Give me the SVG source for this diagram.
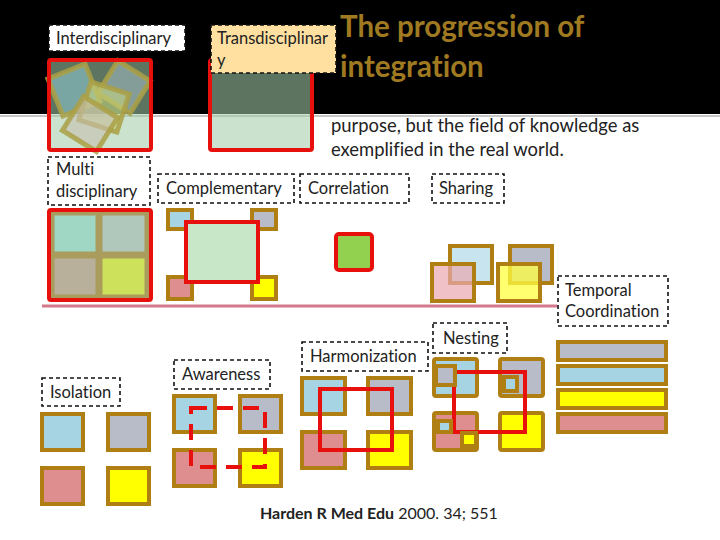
<svg xmlns="http://www.w3.org/2000/svg" width="720" height="540" viewBox="0 0 720 540">
<style>
text{font-family:Lato,"Open Sans","Liberation Sans",sans-serif;font-size:16.5px;fill:#222;font-variant-ligatures:none;font-feature-settings:"liga" 0,"dlig" 0}
.lbl{fill:#fff;stroke:#111;stroke-width:1.6;stroke-dasharray:4 3}
.sq{stroke:#b07f14;stroke-width:4}
.red{fill:none;stroke:#e8100c;stroke-width:4}
.blue{fill:#a6d4e2}.grey{fill:#b8bcc8}.pink{fill:#de8e8e}.yel{fill:#ffff00}
.tilt{stroke:#aaa045;stroke-width:5;stroke-opacity:.85}
</style>
<rect x="0" y="0" width="720" height="540" fill="#fff"/>
<rect x="0" y="0" width="720" height="114" fill="#000"/>
<line x1="0" y1="116" x2="720" y2="116" stroke="#b4b4b4" stroke-width="1.5"/>

<g id="title">
<text x="340" y="37" style="font-size:29.5px;font-weight:bold;fill:#a07a20">The progression of</text>
<text x="340" y="77" style="font-size:29.5px;font-weight:bold;fill:#a07a20">integration</text>
</g>
<g id="para">
<text x="331" y="132" style="font-size:18.4px">purpose, but the field of knowledge as</text>
<text x="331" y="156" style="font-size:18.4px">exemplified in the real world.</text>
</g>

<g id="interdisciplinary">
<rect x="49" y="60" width="102" height="90" fill="#a3cda8" fill-opacity=".57"/>
<rect class="tilt" x="-20" y="-20" width="40" height="40" fill="#8cc4d0" fill-opacity=".6" transform="translate(74,90) rotate(-22)"/>
<rect class="tilt" x="-19" y="-19" width="38" height="38" fill="#a0b8c0" fill-opacity=".6" transform="translate(124,87) rotate(32)"/>
<rect class="tilt" x="-20" y="-20" width="40" height="40" fill="#c8d880" fill-opacity=".55" transform="translate(104,107) rotate(18)"/>
<rect class="tilt" x="-20" y="-20" width="40" height="40" fill="#c8c0b0" fill-opacity=".6" transform="translate(90,124) rotate(32)"/>
<rect class="red" x="49" y="60" width="102" height="90" rx="2"/>
<rect class="lbl" x="49" y="25" width="136" height="26"/>
<text x="56" y="44">Interdisciplinary</text>
</g>

<g id="transdisciplinary">
<rect x="210" y="60" width="102" height="90" fill="#a3cda8" fill-opacity=".57"/>
<rect class="red" x="210" y="60" width="102" height="90" rx="2"/>
<rect class="lbl" x="211" y="25" width="125" height="48" style="fill:#ffe0a0"/>
<text x="217" y="44">Transdisciplinar</text>
<text x="217" y="66">y</text>
</g>

<g id="multidisciplinary">
<rect x="49" y="210" width="102" height="90" fill="#c8e4c4"/>
<rect x="52" y="213" width="46" height="41" fill="#9fd6c4" stroke="#aa9c5c" stroke-width="5"/>
<rect x="100" y="213" width="47" height="41" fill="#b0c8bc" stroke="#aa9c5c" stroke-width="5"/>
<rect x="52" y="256" width="46" height="41" fill="#b8b09a" stroke="#aa9c5c" stroke-width="5"/>
<rect x="100" y="256" width="47" height="41" fill="#cde25a" stroke="#aa9c5c" stroke-width="5"/>
<rect class="red" x="49" y="210" width="102" height="90" rx="2"/>
<rect class="lbl" x="48" y="157" width="102" height="48"/>
<text x="56" y="175">Multi</text>
<text x="56" y="197">disciplinary</text>
</g>

<g id="complementary">
<rect class="sq blue" x="168" y="210" width="24" height="19"/>
<rect class="sq grey" x="252" y="210" width="24" height="19"/>
<rect class="sq pink" x="168" y="277" width="24" height="22"/>
<rect class="sq yel" x="252" y="277" width="24" height="22"/>
<rect x="186" y="222" width="72" height="60" fill="#c8e6c8" stroke="#e8100c" stroke-width="4"/>
<rect class="lbl" x="158" y="174" width="136" height="29"/>
<text x="166" y="194">Complementary</text>
</g>

<g id="correlation">
<rect x="336" y="234" width="36" height="36" rx="3" fill="#92d050" stroke="#e8100c" stroke-width="4"/>
<rect class="lbl" x="300" y="174" width="109" height="29"/>
<text x="308" y="194">Correlation</text>
</g>

<g id="sharing">
<rect class="sq" x="450" y="246" width="42" height="37" fill="#c8e4ee"/>
<rect class="sq" x="510" y="246" width="42" height="37" fill="#b8bcc8"/>
<rect class="sq" x="432" y="264" width="42" height="37" fill="#e9a8b0" fill-opacity=".7"/>
<rect class="sq" x="498" y="264" width="42" height="37" fill="#ffff40" fill-opacity=".75"/>
<rect class="lbl" x="432" y="174" width="72" height="29"/>
<text x="439" y="194">Sharing</text>
</g>

<g id="connectors">
<line x1="42" y1="306" x2="557" y2="306" stroke="#d4788c" stroke-width="3"/>
</g>

<g id="temporal">
<rect class="lbl" x="558" y="276" width="110" height="50"/>
<text x="565" y="296">Temporal</text>
<text x="565" y="317">Coordination</text>
<rect class="sq grey" x="558" y="342" width="108" height="18"/>
<rect class="sq blue" x="558" y="366" width="108" height="18"/>
<rect class="sq yel" x="558" y="390" width="108" height="18"/>
<rect class="sq pink" x="558" y="414" width="108" height="18"/>
</g>

<g id="isolation">
<rect class="lbl" x="42" y="378" width="78" height="28"/>
<text x="50" y="398">Isolation</text>
<rect class="sq blue" x="42" y="414" width="41" height="36"/>
<rect class="sq grey" x="108" y="414" width="41" height="36"/>
<rect class="sq pink" x="42" y="468" width="41" height="36"/>
<rect class="sq yel" x="108" y="468" width="41" height="36"/>
</g>

<g id="awareness">
<rect class="lbl" x="174" y="360" width="96" height="29"/>
<text x="182" y="380">Awareness</text>
<rect class="sq blue" x="174" y="396" width="41" height="36"/>
<rect class="sq grey" x="240" y="396" width="41" height="36"/>
<rect class="sq pink" x="174" y="450" width="41" height="36"/>
<rect class="sq yel" x="240" y="450" width="41" height="36"/>
<rect x="191" y="408" width="74" height="59" fill="none" stroke="#e8100c" stroke-width="4" stroke-dasharray="16 10"/>
</g>

<g id="harmonization">
<rect class="lbl" x="302" y="342" width="126" height="29"/>
<text x="310" y="362">Harmonization</text>
<rect class="sq blue" x="302" y="378" width="43" height="36"/>
<rect class="sq grey" x="368" y="378" width="43" height="36"/>
<rect class="sq pink" x="302" y="432" width="43" height="36"/>
<rect class="sq yel" x="368" y="432" width="43" height="36"/>
<rect class="red" x="320" y="389" width="72" height="61"/>
</g>

<g id="nesting">
<rect class="lbl" x="433" y="323" width="74" height="30"/>
<text x="443" y="344">Nesting</text>
<rect class="sq blue" x="434" y="359" width="43" height="37" rx="2"/>
<rect class="sq grey" x="500" y="359" width="43" height="37" rx="2"/>
<rect class="sq pink" x="434" y="413" width="43" height="37" rx="2"/>
<rect class="sq yel" x="500" y="413" width="43" height="37" rx="2"/>
<rect class="red" x="454" y="372" width="71" height="60"/>
<rect class="sq grey" x="436" y="366" width="19" height="19"/>
<rect class="sq blue" x="504" y="377" width="13" height="14"/>
<rect class="sq blue" x="438" y="421" width="13" height="11"/>
<rect class="sq yel" x="462" y="433" width="14" height="13"/>
</g>

<g id="citation">
<text x="260" y="519" style="font-size:16px"><tspan style="font-weight:bold">Harden R Med Edu</tspan> 2000. 34; 551</text>
</g>
</svg>
